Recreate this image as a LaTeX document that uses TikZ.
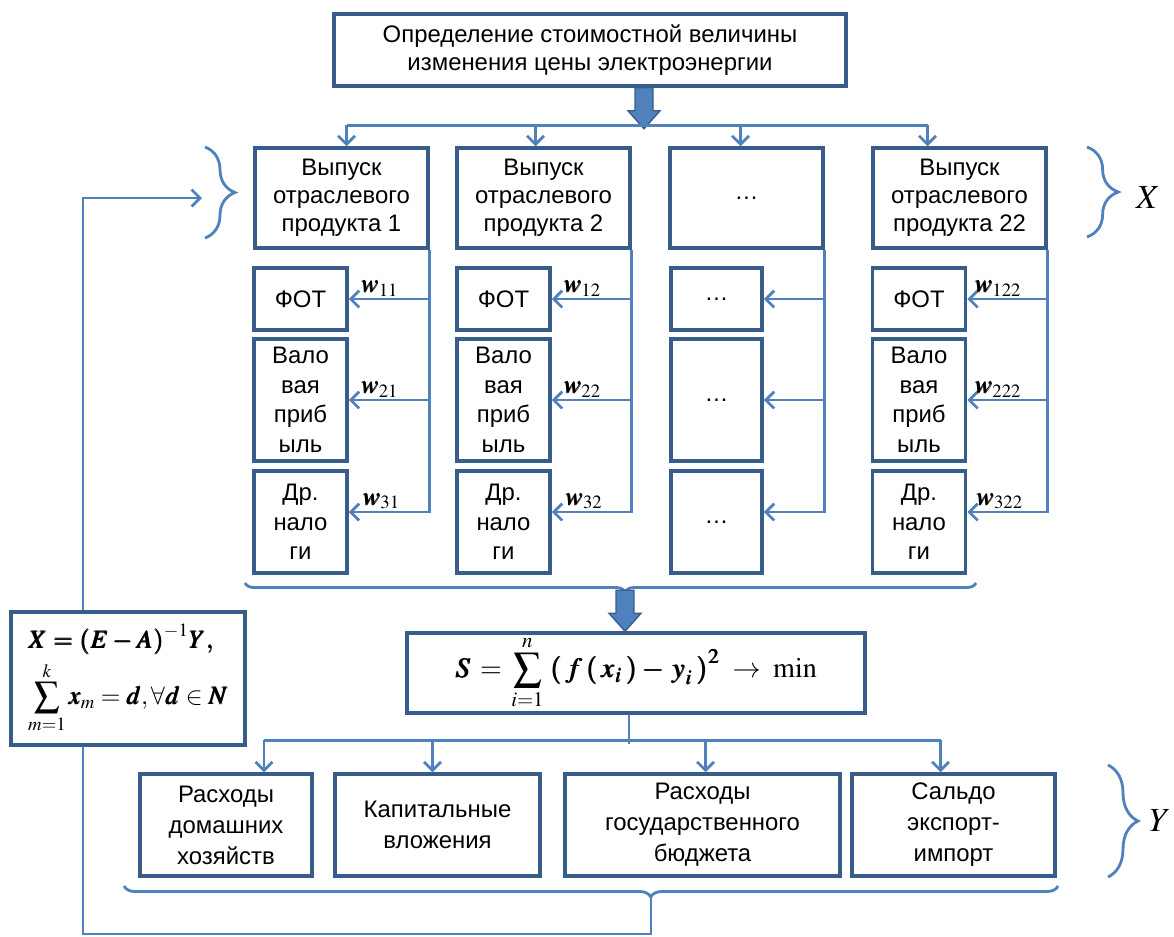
\documentclass[tikz,border=0pt]{standalone}
\usepackage{amsmath,amssymb}
\usepackage{mathptmx}
\usepackage{bm}
\usepackage[no-math]{fontspec}
\setmainfont{Liberation Sans}
\usepackage{tikz}
\usetikzlibrary{arrows.meta,calc,decorations.pathreplacing,positioning}
\definecolor{lineblue}{RGB}{79,129,189}
\definecolor{boxblue}{RGB}{56,93,138}

\begin{document}
\begin{tikzpicture}[x=0.025cm, y=-0.025cm, >={Straight Barb[length=6pt,width=12pt]},
    box/.style 2 args={draw=boxblue, line width=2.5pt, fill=white, inner sep=0pt, align=center,
      minimum width=#1*0.025cm, minimum height=#2*0.025cm, font=\fontsize{17}{20}\selectfont},
    link/.style={draw=lineblue, line width=2pt},
    fat/.style={draw=boxblue, fill=lineblue, line width=1pt},
    brc/.style={draw=lineblue, line width=2pt, decorate, decoration={brace, amplitude=#1}},
    wlab/.style={above, inner sep=1pt, font=\fontsize{18}{20}\selectfont}]
\useasboundingbox (0,0) rectangle (1174,936);

% top
\node[box={512}{72}] (cost) at (590,50) {Определение стоимостной величины\\изменения цены электроэнергии};

\node[box={173}{100}] (out1) at (341.5,198) {Выпуск\\отраслевого\\продукта 1};
\node[box={173}{100}] (out2) at (543.5,198) {Выпуск\\отраслевого\\продукта 2};
\node[box={153}{100}] (out3) at (746.5,198) {\dots};
\node[box={173}{100}] (out4) at (959.5,198) {Выпуск\\отраслевого\\продукта 22};

\draw[fat] ($(cost.south)+(54,0)$) ++(-9,0) -- ++(0,23) -- ++(-7,0) -- ++(16,18) -- ++(16,-18) -- ++(-7,0) -- ++(0,-23) -- cycle;
\draw[link] ($(out1.north)+(5,-21)$) -- ($(out4.north)+(-32,-21)$);
\foreach \o/\d in {1/5, 2/-8, 3/-6, 4/-32}
  \draw[link,->] ($(out\o.north)+(\d,-21)$) -- ($(out\o.north)+(\d,0)$);

% columns
\foreach \c/\bx/\k in {1/300.5/1, 2/503.5/2, 4/919/22}{
  \node[box={93}{62}] (fot\c) at (\bx,299) {ФОТ};
  \node[box={93}{122}, font=\fontsize{17}{21}\selectfont] (val\c) at (\bx,400) {Вало\\вая\\приб\\ыль};
  \node[box={93}{102}, font=\fontsize{17}{21}\selectfont] (tax\c) at (\bx,522) {Др.\\нало\\ги};
  \draw[link,->] (out\c.south east) |- ($(tax\c.east)+(0,-10)$) node[wlab, pos=0.8] {$\bm{w}_{3\k}$};
  \draw[link,->] (out\c.south east |- fot\c.east) -- (fot\c.east) node[wlab, pos=0.62] {$\bm{w}_{1\k}$};
  \draw[link,->] (out\c.south east |- val\c.east) -- (val\c.east) node[wlab, pos=0.62] {$\bm{w}_{2\k}$};
}
\node[box={91}{62}] (fot3) at (716.5,299) {\dots};
\node[box={91}{122}] (val3) at (716.5,400) {\dots};
\node[box={91}{102}] (tax3) at (716.5,522) {\dots};
\draw[link,->] (out3.south east) |- ($(tax3.east)+(0,-10)$);
\draw[link,->] (out3.south east |- fot3.east) -- (fot3.east);
\draw[link,->] (out3.south east |- val3.east) -- (val3.east);

% braces of X
\draw[brc=0.75cm] (205,147) -- (205,238);
\draw[brc=0.78cm] (1087,147) -- (1087,237);
\node[font=\fontsize{24}{24}\selectfont] (xlab) at (1148,198) {$X$};
\draw[brc=0.225cm, decoration={mirror, aspect=0.52}] (245,583) -- (976,583);

% least squares
\node[box={458}{80}, font=\fontsize{20}{24}\selectfont] (lsq) at (636,673)
  {$\bm{S} \,=\, \displaystyle\sum_{i=1}^{n}\; \bm{(\,f\,(\,x_i\,) - \,y_i\,)^2} \;\to\; \min$};
\draw[fat] ($(lsq.north)+(-11,-41)$) ++(-9,0) -- ++(0,23) -- ++(-7,0) -- ++(16,18) -- ++(16,-18) -- ++(-7,0) -- ++(0,-23) -- cycle;

\node[box={234}{133}, align=left, font=\fontsize{18}{22}\selectfont] (inv) at (128,678.5)
  {$\bm{X = (E - A)^{-1} Y,}$\\[4pt] $\displaystyle\sum_{m=1}^{k} \bm{x}_m = \bm{d}, \forall \bm{d} \in \bm{N}$};

% final demand
\node[box={172}{102}, font=\fontsize{17}{22}\selectfont] (exp1) at (226,825) {Расходы\\домашних\\хозяйств};
\node[box={205}{102}, font=\fontsize{17}{22}\selectfont] (exp2) at (437.5,825) {Капитальные\\вложения};
\node[box={275}{102}, font=\fontsize{17}{22}\selectfont] (exp3) at (702.5,825) {Расходы\\государственного\\бюджета};
\node[box={203}{102}, font=\fontsize{17}{22}\selectfont] (exp4) at (953.5,825) {Сальдо\\экспорт-\\импорт};

\draw[link] ($(lsq.south)+(-7,0)$) -- ++(0,29);
\draw[link] ($(exp1.north)+(38,-32)$) -- ($(exp4.north)+(-13,-32)$);
\foreach \e/\d in {1/38, 2/-5, 3/3, 4/-13}
  \draw[link,->] ($(exp\e.north)+(\d,-32)$) -- ($(exp\e.north)+(\d,0)$);

\draw[brc=0.75cm] (1108,765) -- (1108,877);
\node[font=\fontsize{24}{24}\selectfont] (ylab) at (1160,821) {$Y$};
\draw[brc=0.275cm, decoration={mirror, aspect=0.564}] (124,886) -- (1058,886);

% feedback
\coordinate (tip2) at (651,897);
\coordinate (lb) at (202,198);
\draw[link] (tip2) -- ++(0,37) -| ($(inv.south)+(-45,0)$);
\draw[link,->] ($(inv.north)+(-45,0)$) |- (lb);
\end{tikzpicture}
\end{document}
